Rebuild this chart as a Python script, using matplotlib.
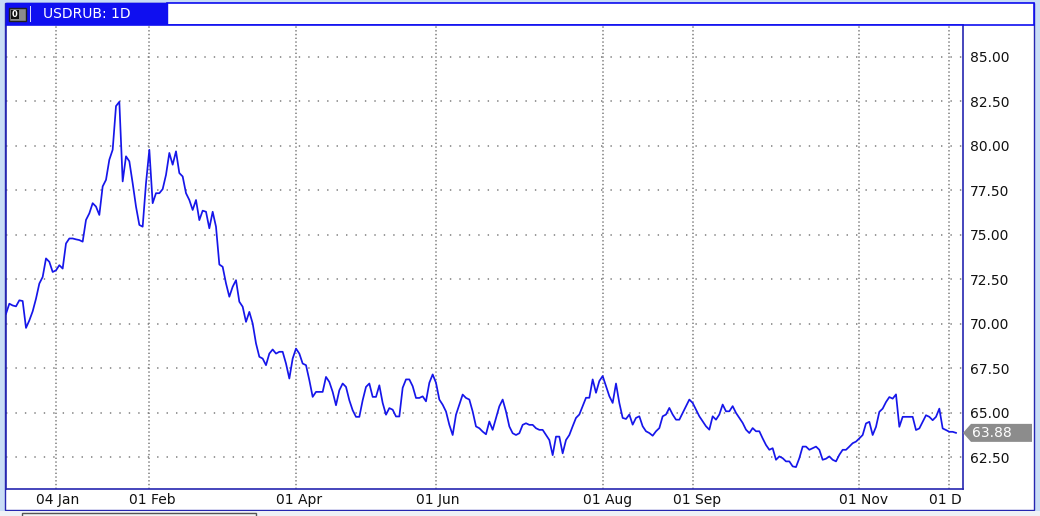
import matplotlib.pyplot as plt
import matplotlib.transforms as mtransforms
from matplotlib.patches import Rectangle, Polygon

plt.rcParams['font.family'] = ['DejaVu Sans']
plt.rcParams['lines.scale_dashes'] = False

# USDRUB daily closes (one value per bar)
closes_dec_feb = [
    70.56, 71.13, 71.03, 70.98, 71.32, 71.28, 69.77, 70.19, 70.70, 71.41,
    72.26, 72.63, 73.67, 73.48, 72.91, 73.00, 73.29, 73.10, 74.51, 74.79,
    74.79, 74.74, 74.70, 74.61, 75.83, 76.20, 76.77, 76.58, 76.11, 77.71,
    78.08, 79.21, 79.77, 82.22, 82.46, 77.99, 79.40, 79.12, 77.89, 76.58,
    75.55, 75.45, 77.89, 79.77, 76.77, 77.33, 77.33, 77.56, 78.36, 79.59,
    78.93, 79.68, 78.46, 78.27, 77.33, 76.95]
closes_mar_may = [
    76.39, 76.95, 75.82, 76.35, 76.29, 75.36, 76.29, 75.45, 73.33, 73.20,
    72.27, 71.52, 72.08, 72.45, 71.24, 70.96, 70.11, 70.67, 70.02, 68.90,
    68.15, 68.05, 67.68, 68.33, 68.56, 68.33, 68.43, 68.43, 67.77, 66.93,
    68.05, 68.61, 68.33, 67.77, 67.68, 66.84, 65.90, 66.18, 66.18, 66.18,
    67.02, 66.74, 66.18, 65.43, 66.27, 66.65, 66.46, 65.71, 65.15, 64.78,
    64.78, 65.71, 66.46, 66.65, 65.90, 65.90, 66.55]
closes_may_jul = [
    65.56, 64.90, 65.27, 65.18, 64.80, 64.80, 66.41, 66.88, 66.88, 66.50,
    65.84, 65.84, 65.93, 65.65, 66.69, 67.16, 66.69, 65.75, 65.46, 65.08,
    64.33, 63.76, 64.90, 65.46, 66.03, 65.84, 65.75, 65.08, 64.24, 64.14,
    63.95, 63.80, 64.52, 64.05, 64.71, 65.37, 65.75, 65.08, 64.24, 63.86,
    63.76, 63.86, 64.33, 64.42, 64.33, 64.33, 64.14, 64.05, 64.05, 63.76,
    63.48, 62.63, 63.67, 63.67, 62.73, 63.48, 63.76]
closes_jul_sep = [
    64.25, 64.72, 64.91, 65.38, 65.85, 65.85, 66.88, 66.13, 66.79, 67.07,
    66.50, 65.94, 65.56, 66.65, 65.56, 64.72, 64.66, 64.91, 64.34, 64.72,
    64.81, 64.25, 63.97, 63.87, 63.72, 63.97, 64.15, 64.81, 64.91, 65.28,
    64.91, 64.62, 64.62, 65.00, 65.38, 65.75, 65.56, 65.19, 64.81, 64.53,
    64.25, 64.06, 64.81, 64.62, 64.91, 65.47, 65.09, 65.09, 65.38, 65.00,
    64.72, 64.44, 64.06, 63.87, 64.15, 63.97, 63.97]
closes_sep_dec = [
    63.57, 63.20, 62.93, 63.02, 62.37, 62.56, 62.46, 62.28, 62.28, 62.00,
    61.96, 62.46, 63.11, 63.11, 62.93, 63.02, 63.11, 62.93, 62.37, 62.43,
    62.56, 62.37, 62.28, 62.65, 62.93, 62.93, 63.11, 63.30, 63.39, 63.57,
    63.76, 64.41, 64.50, 63.76, 64.22, 65.06, 65.24, 65.61, 65.89, 65.80,
    66.04, 64.22, 64.78, 64.78, 64.78, 64.78, 64.04, 64.13, 64.50, 64.87,
    64.78, 64.59, 64.78, 65.24, 64.13, 64.04, 63.94, 63.94, 63.88]

closes = (closes_dec_feb + closes_mar_may + closes_may_jul
          + closes_jul_sep + closes_sep_dec)

date_labels = ['04 Jan', '01 Feb', '01 Apr', '01 Jun', '01 Aug', '01 Sep', '01 Nov', '01 Dec']
date_bars = [15, 43, 87, 129, 179, 206, 256, 283]
price_levels = [62.5, 65.0, 67.5, 70.0, 72.5, 75.0, 77.5, 80.0, 82.5, 85.0]
title = 'USDRUB: 1D'

W, H = 1040, 516
frame_blue = '#2626b0'
tab_blue = '#0f0ff0'
line_blue = '#1616ea'
grid_grey = '#7c7c7c'


def fx(px):
    return px / W


def fy(py):
    return 1 - py / H


def frect(x0, y0, x1, y1, z=0.5, **kw):
    # rectangle in pixel coords, y measured from top
    r = Rectangle((fx(x0), fy(y1)), fx(x1) - fx(x0), fy(y0) - fy(y1),
                  transform=fig.transFigure, zorder=z, **kw)
    fig.add_artist(r)
    return r


fig = plt.figure(figsize=(W / 100, H / 100), dpi=100)
fig.patch.set_facecolor('#c9ddf6')

# panel and bars around the plot (behind the axes)
frect(5, 3, 1034, 510, z=-3, facecolor='white', edgecolor=frame_blue, lw=1.0)
frect(0, 511, 1040, 516, z=-3, facecolor='#eef1f6', edgecolor='none')
frect(22, 513, 256, 520, z=-2, facecolor='#f4f4f4', edgecolor='#555555', lw=1.0)
frect(167, 3, 1034, 25, z=-2, facecolor='white', edgecolor=tab_blue, lw=1.2)
frect(6, 3, 167, 25, z=-2, facecolor=tab_blue, edgecolor=tab_blue, lw=1.0)

# small icon in the title tab
frect(9, 8, 26, 21, z=-1, facecolor='#8c8c8c', edgecolor='#202020', lw=1.0)
frect(11, 10, 19, 19, z=-1, facecolor='#111111', edgecolor='none')
fig.text(fx(15), fy(14.5), '0', color='white', fontsize=6, fontweight='bold',
         ha='center', va='center')
frect(30, 6, 31, 22, z=-1, facecolor='#d8d8ff', edgecolor='none')
fig.text(fx(43), fy(14), title, color='white', fontsize=10, ha='left', va='center')

ax = fig.add_axes([fx(6), fy(489), fx(963) - fx(6), fy(25) - fy(489)])
ax.set_zorder(1)
ax.set_facecolor('white')
for side in ['left', 'right', 'bottom', 'top']:
    ax.spines[side].set_color(frame_blue)
    ax.spines[side].set_linewidth(1.2)
ax.spines['top'].set_color(tab_blue)

for lvl in price_levels:
    ax.axhline(lvl, color=grid_grey, lw=1.1, ls=(0, (1.0, 5.8)), zorder=1)
for b in date_bars:
    ax.axvline(b, color=grid_grey, lw=1.1, ls=(0, (1.0, 1.7)), zorder=1)

ax.plot(range(len(closes)), closes, color=line_blue, lw=1.25, zorder=3)

ax.set_xlim(0, 287.1)
ax.set_ylim(60.73, 86.77)
ax.set_xticks(date_bars)
ax.set_xticklabels([])
ax.tick_params(axis='x', length=0)
ax.yaxis.tick_right()
ax.set_yticks(price_levels)
ax.set_yticklabels([f'{v:.2f}' for v in price_levels])
ax.tick_params(axis='y', length=0, pad=5, labelsize=10, labelcolor='#111111')

# date labels, clipped at the plot's right edge like the original
clip = mtransforms.TransformedBbox(
    mtransforms.Bbox([[fx(6), fy(509)], [fx(962), fy(489)]]), fig.transFigure)
base = mtransforms.blended_transform_factory(ax.transData, fig.transFigure)
lab_trans = mtransforms.offset_copy(base, fig=fig, x=-20, y=0, units='dots')
for b, lab in zip(date_bars, date_labels):
    t = ax.text(b, fy(500), lab, transform=lab_trans, fontsize=10,
                ha='left', va='center', color='#111111')
    t.set_clip_on(True)
    t.set_clip_box(clip)

# last price tag
last = closes[-1]
py = H - ax.transData.transform((0, last))[1]
tag = Polygon([[fx(963), fy(py)], [fx(971), fy(py - 9)], [fx(1032), fy(py - 9)],
               [fx(1032), fy(py + 9)], [fx(971), fy(py + 9)]],
              closed=True, transform=fig.transFigure,
              facecolor='#8c8c8c', edgecolor='none', zorder=2)
fig.add_artist(tag)
fig.text(fx(972), fy(py), f'{last:.2f}', color='white', fontsize=10,
         ha='left', va='center', zorder=3)

fig.savefig('out.png', dpi=100, facecolor=fig.get_facecolor())
